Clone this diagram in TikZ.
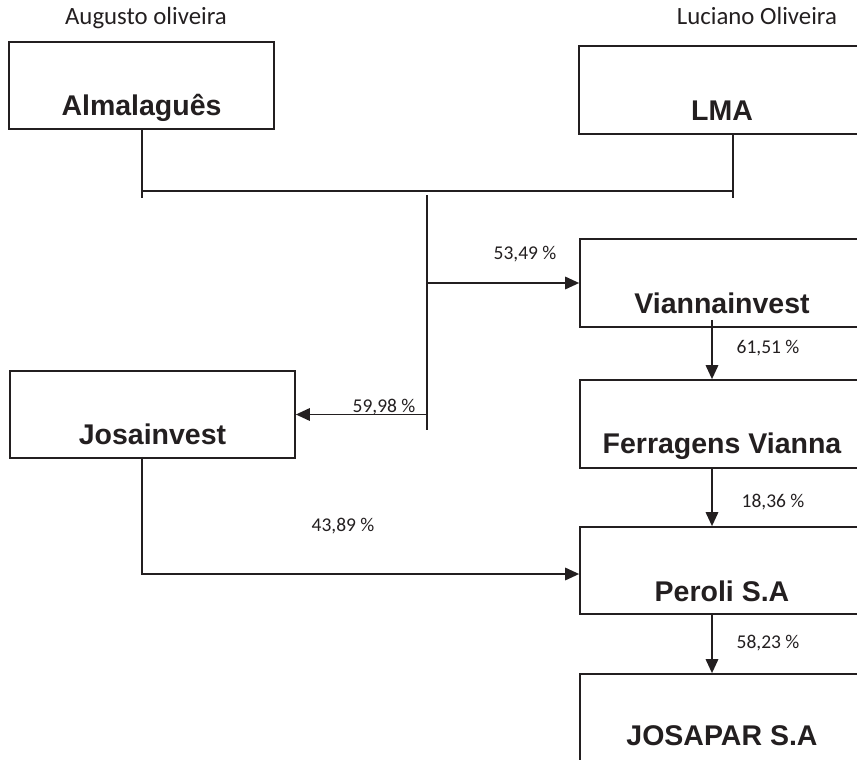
\documentclass[tikz,border=0pt]{standalone}
\usepackage{fontspec}
\setmainfont{Liberation Sans}
\newfontfamily\calfont{Carlito}
\usetikzlibrary{arrows.meta,calc}
\definecolor{ink}{HTML}{231F20}
\tikzset{
  box/.style={draw=ink, line width=1.7pt, inner sep=0pt, text=ink,
    font=\fontsize{28.5}{30}\selectfont\bfseries},
  pct/.style={text=ink, inner sep=0pt, anchor=base, font=\calfont\fontsize{19.5}{21}\selectfont},
  owner/.style={text=ink, inner sep=0pt, anchor=base, font=\calfont\fontsize{24.8}{26}\selectfont},
  con/.style={draw=ink, line width=1.7pt},
  arr/.style={con, -{Triangle[length=14pt,width=12.5pt]}}
}
\begin{document}
\begin{tikzpicture}[x=1pt,y=-1pt]
\clip (0,0) rectangle (857,760);
\path[use as bounding box] (0,0) rectangle (857,760);
% boxes
\node[box, minimum width=265pt, minimum height=87pt, text height=73pt, text depth=14pt] (alm) at (141.5,85.5) {Almalaguês};
\node[box, minimum width=286pt, minimum height=88pt, text height=75pt, text depth=13pt] (lma) at (722,90) {LMA};
\node[box, minimum width=284pt, minimum height=88pt, text height=74pt, text depth=14pt] (via) at (722,283) {Viannainvest};
\node[box, minimum width=284pt, minimum height=88pt, text height=73pt, text depth=15pt] (fer) at (722,424) {Ferragens Vianna};
\node[box, minimum width=284pt, minimum height=87pt, text height=74pt, text depth=13pt] (per) at (722,570.5) {Peroli S.A};
\node[box, minimum width=284pt, minimum height=88pt, text height=71pt, text depth=17pt] (jsp) at (722,718) {JOSAPAR S.A};
\node[box, minimum width=285pt, minimum height=87pt, text height=73pt, text depth=14pt] (josi) at (152.5,414.5) {Josainvest};
% owners
\node[owner] (aug) at (146,25) {Augusto oliveira};
\node[owner] (luc) at (757,25) {Luciano Oliveira};
% junction coordinates
\coordinate (jL) at (142,191);
\coordinate (jR) at (733,191);
\coordinate (jLb) at (142,198);
\coordinate (jRb) at (733,198);
\coordinate (tTop) at (427,195);
\coordinate (tBot) at (427,430);
\coordinate (ax) at (712,0);
% connectors
\draw[con] (alm.south -| jL) -- (jLb);
\draw[con] (lma.south -| jR) -- (jRb);
\draw[con] (jL) -- (jR);
\draw[con] (tTop) -- (tBot);
\draw[arr] (tTop |- via.west) -- (via.west);
\draw[arr] (tTop |- josi.east) -- (josi.east);
\draw[arr] ($(via.south -| ax)+(0,-8)$) -- (fer.north -| ax);
\draw[arr] (fer.south -| ax) -- (per.north -| ax);
\draw[arr] (per.south -| ax) -- (jsp.north -| ax);
\draw[arr] ($(josi.south -| jL)+(0,-2)$) |- ($(per.west)+(0,3.5)$);
% percentages
\node[pct] (p1) at (525,259) {53,49 \%};
\node[pct] (p2) at (384,412) {59,98 \%};
\node[pct] (p3) at (768,353) {61,51 \%};
\node[pct] (p4) at (773,507) {18,36 \%};
\node[pct] (p5) at (768,648) {58,23 \%};
\node[pct] (p6) at (343,531) {43,89 \%};
\end{tikzpicture}
\end{document}
